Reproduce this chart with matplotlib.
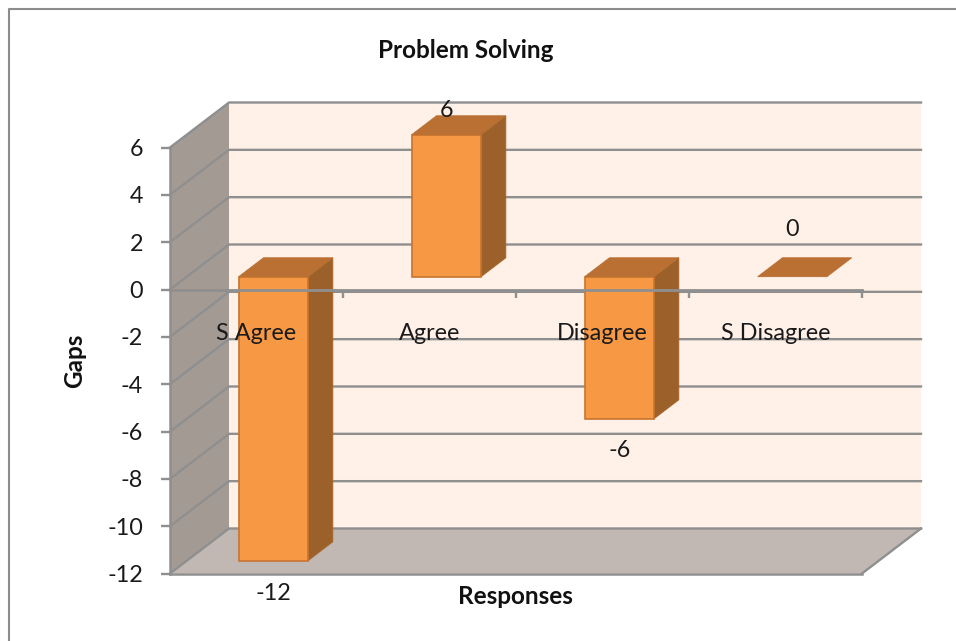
"""Problem Solving gaps, drawn as an Excel style 3-D column chart."""
import matplotlib

matplotlib.use("Agg")
import matplotlib.pyplot as plt
from matplotlib.lines import Line2D
from matplotlib.patches import Polygon

categories = ["S Agree", "Agree", "Disagree", "S Disagree"]
gaps = [-12, 6, -6, 0]
y_ticks = [6, 4, 2, 0, -2, -4, -6, -8, -10, -12]

W, H = 956, 641
LEFT, RIGHT, TOP, BOTTOM = 170, 862, 147.5, 573.5

# how far the chart goes back, in data units
DX = 59 / 173
DY = 45 / ((BOTTOM - TOP) / 18)
BAR_WIDTH = 0.4
D0, D1 = 0.285, 0.705

GRID = "#8f8f8f"
TEXT = "#1a1a1a"
FS = 16.8
FS_BOLD = 17.5

plt.rcParams["font.family"] = ["Lato", "DejaVu Sans"]
plt.rcParams["axes.unicode_minus"] = False

fig = plt.figure(figsize=(W / 100, H / 100), dpi=100)
ax = fig.add_axes([LEFT / W, 1 - BOTTOM / H, (RIGHT - LEFT) / W, (BOTTOM - TOP) / H])
ax.set_xlim(0, 4)
ax.set_ylim(-12, 6)
ax.patch.set_visible(False)


def back(x, y, d=1.0):
    return (x + d * DX, y + d * DY)


def poly(points, face, edge="none", lw=0.0, z=1.0):
    ax.add_patch(Polygon(points, closed=True, facecolor=face, edgecolor=edge,
                         linewidth=lw, zorder=z, clip_on=False))


# walls and floor
poly([back(0, -12), back(4, -12), back(4, 6), back(0, 6)], "#fff0e8", z=0.5)
poly([(0, -12), back(0, -12), back(0, 6), (0, 6)], "#a39a94", z=0.5)
poly([(0, -12), (4, -12), back(4, -12), back(0, -12)], "#c2b8b3", z=0.5)

for v in y_ticks:
    ax.plot([0, DX, 4 + DX], [v, v + DY, v + DY], color=GRID, lw=1.7, zorder=0.8,
            clip_on=False)
ax.plot([4, 4 + DX], [-12, -12 + DY], color=GRID, lw=1.7, zorder=0.8, clip_on=False)
ax.plot([0, 4], [-12, -12], color=GRID, lw=1.8, zorder=0.8, clip_on=False)

# columns
for i, v in enumerate(gaps):
    x0 = i + 0.5 - BAR_WIDTH / 2
    x1 = i + 0.5 + BAR_WIDTH / 2
    lo, hi = min(v, 0), max(v, 0)
    edge = "#c8742f"
    if v != 0:
        poly([back(x1, lo, D0), back(x1, lo, D1), back(x1, hi, D1), back(x1, hi, D0)],
             "#9c612b", edge="#a8672d", lw=0.8)
        poly([back(x0, lo, D0), back(x1, lo, D0), back(x1, hi, D0), back(x0, hi, D0)],
             "#f79845", edge=edge, lw=1.2)
    poly([back(x0, hi, D0), back(x1, hi, D0), back(x1, hi, D1), back(x0, hi, D1)],
         "#b97032", edge="#b97032", lw=0.6)

# axes: the category axis crosses at zero
for s in ("top", "right"):
    ax.spines[s].set_visible(False)
ax.spines["left"].set_color(GRID)
ax.spines["left"].set_linewidth(1.8)
ax.spines["bottom"].set_position(("data", 0))
ax.spines["bottom"].set_color(GRID)
ax.spines["bottom"].set_linewidth(2.0)

ax.set_yticks(y_ticks)
ax.tick_params(axis="y", length=6.5, width=1.7, color=GRID, labelsize=FS,
               labelcolor=TEXT, pad=13)
ax.set_xticks([1, 2, 3, 4])
ax.set_xticklabels([])
ax.set_xticks([0.5, 1.5, 2.5, 3.5], minor=True)
ax.set_xticklabels(categories, minor=True)
ax.tick_params(axis="x", which="major", length=6, width=1.7, color=GRID)
ax.tick_params(axis="x", which="minor", length=0, labelsize=FS, labelcolor=TEXT, pad=24)

# data labels sit around the front of each column
label_offsets = [(17, -2), (17, -2), (17, -1), (17, 47)]
for i, v in enumerate(gaps):
    off = label_offsets[i]
    ya = back(0, v, D0)[1]
    ax.annotate(str(v), xy=(i + 0.5, ya), xytext=(off[0], off[1] + (26 if v > 0 else -31 if v < 0 else 0)),
                textcoords="offset pixels", ha="center", va="center", fontsize=FS,
                color=TEXT, annotation_clip=False, zorder=5)

fig.text(466 / W, 1 - 50.5 / H, "Problem Solving", ha="center", va="center",
         fontsize=FS_BOLD, fontweight="bold", color="#111111")
fig.text(75 / W, 1 - 361 / H, "Gaps", ha="center", va="center", rotation=90,
         fontsize=FS_BOLD, fontweight="bold", color="#111111")
fig.text(515 / W, 1 - 596 / H, "Responses", ha="center", va="center",
         fontsize=FS_BOLD, fontweight="bold", color="#111111")

# chart frame, cut off by the right and bottom of the picture
fig.add_artist(Line2D([8.5 / W, 8.5 / W, 1], [0, 1 - 9 / H, 1 - 9 / H], color="#8c8c8c", lw=1.5))

fig.savefig("out.png", dpi=100)
plt.close(fig)
